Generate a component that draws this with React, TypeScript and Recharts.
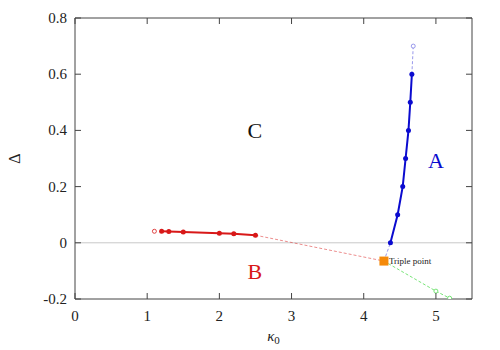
// Phase diagram in the (kappa0, Delta) plane with three phases A, B, C meeting at a triple point
import { XAxis, YAxis, ComposedChart, Line, ReferenceDot, ReferenceLine } from 'recharts';

// boundary B/C (red)
const kappaB = [1.2, 1.3, 1.5, 2.0, 2.2, 2.5];
const deltaB = [0.041, 0.04, 0.038, 0.034, 0.032, 0.027];
const kappaBOpen = [1.1];
const deltaBOpen = [0.041];

// boundary A/C (blue)
const kappaA = [4.37, 4.47, 4.54, 4.58, 4.62, 4.645, 4.667];
const deltaA = [0.0, 0.1, 0.2, 0.3, 0.4, 0.5, 0.6];
const kappaAOpen = [4.686];
const deltaAOpen = [0.7];

// boundary A/B (green, open points only)
const kappaAB = [5.0, 5.19];
const deltaAB = [-0.172, -0.197];

const tripleKappa = 4.28;
const tripleDelta = -0.065;

const kappaTicks = [0, 1, 2, 3, 4, 5];
const deltaTicks = [-0.2, 0, 0.2, 0.4, 0.6, 0.8];
const kappaMax = 5.5;
const deltaMin = -0.2;
const deltaMax = 0.8;

const RED = '#d81818';
const BLUE = '#0b0bcf';
const BLUE_LIGHT = '#7f7fe6';
const GREEN = '#55dd55';
const ORANGE = '#f58a0a';
const AXIS = '#444';
const SERIF = 'Liberation Serif';

// plot frame inside the 500x350 chart
const TOP = 18;
const RIGHT_GAP = 28;
const LEFT = 75;
const RIGHT = 500 - RIGHT_GAP;
const BOTTOM = 299;
const TICK = 6;

const pairs = (xs: number[], ys: number[]) => xs.map((x, i) => ({ x, y: ys[i] }));

const bPts = pairs(kappaB, deltaB);
const aPts = pairs(kappaA, deltaA);
const triple = [{ x: tripleKappa, y: tripleDelta }];
const bDash = [bPts[bPts.length - 1], triple[0]];
const aDashLow = [triple[0], aPts[0]];
const aDashHigh = [aPts[aPts.length - 1], ...pairs(kappaAOpen, deltaAOpen)];
const abDash = [triple[0], ...pairs(kappaAB, deltaAB)];

// bottom label + inward tick + mirrored tick on top edge
function KappaTick(p: any) {
  return (
    <g>
      <line x1={p.x} x2={p.x} y1={BOTTOM - TICK} y2={BOTTOM} stroke={AXIS} />
      <line x1={p.x} x2={p.x} y1={TOP} y2={TOP + TICK} stroke={AXIS} />
      <text x={p.x} y={BOTTOM + 22} textAnchor="middle" fontSize={15} style={{ fontFamily: SERIF }} fill="#222">
        {p.payload.value}
      </text>
    </g>
  );
}

// left label + inward tick + mirrored tick on right edge
function DeltaTick(p: any) {
  return (
    <g>
      <line x1={LEFT} x2={LEFT + TICK} y1={p.y} y2={p.y} stroke={AXIS} />
      <line x1={RIGHT - TICK} x2={RIGHT} y1={p.y} y2={p.y} stroke={AXIS} />
      <text x={LEFT - 8} y={p.y + 5} textAnchor="end" fontSize={15} style={{ fontFamily: SERIF }} fill="#222">
        {p.payload.value}
      </text>
    </g>
  );
}

const hollow = (color: string) => ({ r: 2, fill: '#fff', stroke: color, strokeWidth: 0.8 });

const tripleMark = (p: any) => (
  <rect key="tp" x={p.cx - 4.5} y={p.cy - 4.5} width={9} height={9} fill={ORANGE} />
);

function DeltaLabel(props: any) {
  const vb = props.viewBox;
  const cx = 15;
  const cy = vb.y + vb.height / 2;
  return (
    <text x={cx} y={cy + 5} transform={`rotate(-90 ${cx} ${cy})`} textAnchor="middle" fontSize={16} style={{ fontFamily: SERIF }} fill="#222">
      Δ
    </text>
  );
}

function KappaLabel(props: any) {
  const vb = props.viewBox;
  const cx = vb.x + vb.width / 2;
  return (
    <text x={cx} y={BOTTOM + 42} textAnchor="middle" fontSize={15} style={{ fontFamily: SERIF }} fill="#222">
      <tspan fontStyle="italic">κ</tspan>
      <tspan fontSize={11} dy={3}>0</tspan>
    </text>
  );
}

const phaseLabel = (value: string, color: string) => ({
  value,
  position: 'center' as const,
  fill: color,
  fontSize: 22,
  fontFamily: SERIF,
});

export default function App() {
  return (
    <div style={{ position: 'absolute', left: 0, top: 0, background: '#fff' }}>
      <ComposedChart width={500} height={350} margin={{ top: TOP, right: RIGHT_GAP, bottom: 0, left: 0 }}>
        <XAxis
          dataKey="x"
          type="number"
          domain={[0, kappaMax]}
          ticks={kappaTicks}
          height={51}
          stroke={AXIS}
          tickLine={false}
          tick={KappaTick}
          allowDataOverflow
          label={KappaLabel}
        />
        <YAxis
          type="number"
          domain={[deltaMin, deltaMax]}
          ticks={deltaTicks}
          width={LEFT}
          stroke={AXIS}
          tickLine={false}
          tick={DeltaTick}
          allowDataOverflow
          label={DeltaLabel}
        />

        <ReferenceLine y={0} stroke="#c8c8c8" strokeWidth={1} />
        <ReferenceLine y={deltaMax} stroke={AXIS} strokeWidth={1} ifOverflow="visible" />
        <ReferenceLine x={kappaMax} stroke={AXIS} strokeWidth={1} ifOverflow="visible" />

        <Line data={bDash} dataKey="y" stroke={RED} strokeOpacity={0.7} strokeWidth={0.7} strokeDasharray="3 2" dot={false} isAnimationActive={false} />
        <Line data={aDashLow} dataKey="y" stroke={BLUE_LIGHT} strokeWidth={0.8} strokeDasharray="3 2" dot={false} isAnimationActive={false} />
        <Line data={aDashHigh} dataKey="y" stroke={BLUE_LIGHT} strokeWidth={0.8} strokeDasharray="3 2" dot={false} isAnimationActive={false} />
        <Line data={abDash} dataKey="y" stroke={GREEN} strokeWidth={0.8} strokeDasharray="3 2" dot={false} isAnimationActive={false} />

        <Line data={bPts} dataKey="y" stroke={RED} strokeWidth={2} dot={{ r: 2.5, fill: RED, stroke: RED, strokeWidth: 0 }} isAnimationActive={false} />
        <Line data={pairs(kappaBOpen, deltaBOpen)} dataKey="y" stroke="none" dot={hollow(RED)} isAnimationActive={false} />
        <Line data={aPts} dataKey="y" stroke={BLUE} strokeWidth={2} dot={{ r: 2.5, fill: BLUE, stroke: BLUE, strokeWidth: 0 }} isAnimationActive={false} />
        <Line data={pairs(kappaAOpen, deltaAOpen)} dataKey="y" stroke="none" dot={hollow(BLUE_LIGHT)} isAnimationActive={false} />
        <Line data={pairs(kappaAB, deltaAB)} dataKey="y" stroke="none" dot={hollow(GREEN)} isAnimationActive={false} />
        <Line data={triple} dataKey="y" stroke="none" dot={tripleMark} isAnimationActive={false} />

        <ReferenceDot x={2.49} y={0.4} r={0} stroke="none" label={phaseLabel('C', '#111')} />
        <ReferenceDot x={5.0} y={0.295} r={0} stroke="none" label={phaseLabel('A', BLUE)} />
        <ReferenceDot x={2.49} y={-0.1} r={0} stroke="none" label={phaseLabel('B', RED)} />
        <ReferenceDot
          x={tripleKappa}
          y={tripleDelta}
          r={0}
          stroke="none"
          label={{ value: 'Triple point', position: 'right', offset: 5, fontSize: 9, fill: '#222', fontFamily: SERIF }}
        />
      </ComposedChart>
    </div>
  );
}
